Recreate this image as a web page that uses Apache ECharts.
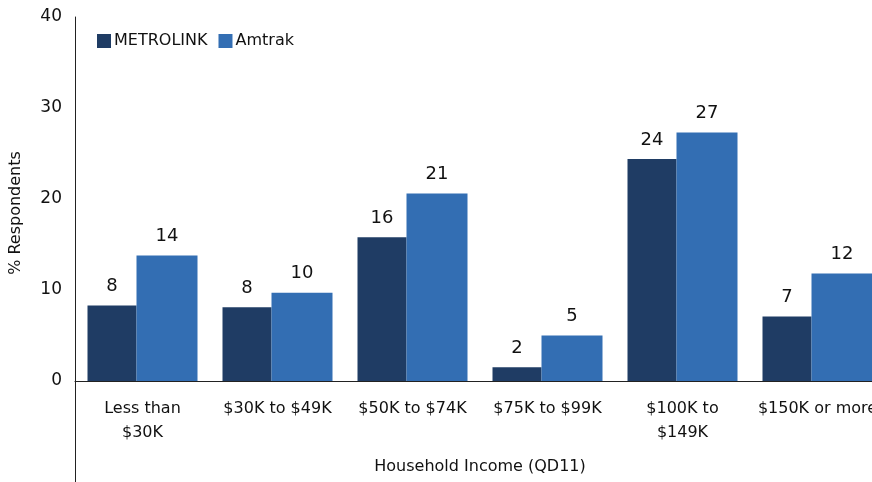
<!DOCTYPE html>
<html>
<head>
<meta charset="utf-8">
<script src="https://cdn.jsdelivr.net/npm/echarts@6/dist/echarts.min.js"></script>
<style>
  html, body { margin: 0; padding: 0; background: #fff; overflow: hidden; width: 872px; height: 482px; }
  #chart { width: 890px; height: 482px; }
</style>
</head>
<body>
<div id="chart"></div>
<script>
var categories = ['Less than\n$30K', '$30K to $49K', '$50K to $74K', '$75K to $99K', '$100K to\n$149K', '$150K or more'];
var metrolink = [8.3, 8.1, 15.8, 1.5, 24.4, 7.1];
var amtrak = [13.8, 9.7, 20.6, 5.0, 27.3, 11.8];

var font = 'DejaVu Sans';
// the original plot area runs past the right edge of the picture, so the canvas is wider and clipped
var myChart = echarts.init(document.getElementById('chart'));

var labelStyle = {
  show: true,
  position: 'top',
  distance: 10,
  color: '#111',
  fontFamily: font,
  fontSize: 18,
  formatter: function (p) { return Math.round(p.value); }
};

var option = {
  animation: false,
  textStyle: { fontFamily: font },
  grid: { left: 75, top: 17, right: 5, bottom: 101, containLabel: false },
  legend: {
    left: 92, top: 28,
    icon: 'rect', itemWidth: 14, itemHeight: 14, itemGap: 11,
    textStyle: { fontFamily: font, fontSize: 16, color: '#111', padding: [0, 0, 0, -2] },
    data: ['METROLINK', 'Amtrak']
  },
  xAxis: {
    type: 'category',
    data: categories,
    name: 'Household Income (QD11)',
    nameLocation: 'middle',
    nameGap: 78,
    nameTextStyle: { fontFamily: font, fontSize: 16, color: '#111' },
    axisLine: { lineStyle: { color: '#222', width: 1 } },
    axisTick: { show: false },
    axisLabel: { interval: 0, margin: 16, fontFamily: font, fontSize: 16, color: '#111', lineHeight: 24 }
  },
  yAxis: {
    type: 'value',
    min: 0, max: 40, interval: 10,
    name: '% Respondents',
    nameLocation: 'middle',
    nameGap: 51,
    nameRotate: 90,
    nameTextStyle: { fontFamily: font, fontSize: 16, color: '#111', padding: [0, 28, 0, 0] },
    axisLine: { show: true, lineStyle: { color: '#222', width: 1 } },
    axisTick: { show: false },
    splitLine: { show: false },
    axisLabel: { margin: 13, fontFamily: font, fontSize: 17, color: '#111' }
  },
  series: [
    {
      name: 'METROLINK', type: 'bar', data: metrolink,
      barWidth: 49, barGap: '0%',
      itemStyle: { color: '#1F3C64' },
      label: labelStyle
    },
    {
      name: 'Amtrak', type: 'bar', data: amtrak,
      barWidth: 61, barGap: '0%',
      itemStyle: { color: '#336EB3' },
      label: labelStyle
    }
  ]
};

myChart.setOption(option);

// extend the value axis line below the category axis, as in the original
var p0 = myChart.convertToPixel({ gridIndex: 0 }, [0, 0]);
var x0 = 75.5;
myChart.setOption({
  graphic: [{
    type: 'line',
    shape: { x1: x0, y1: p0[1], x2: x0, y2: 482 },
    style: { stroke: '#222', lineWidth: 1 }
  }]
});
</script>
</body>
</html>
